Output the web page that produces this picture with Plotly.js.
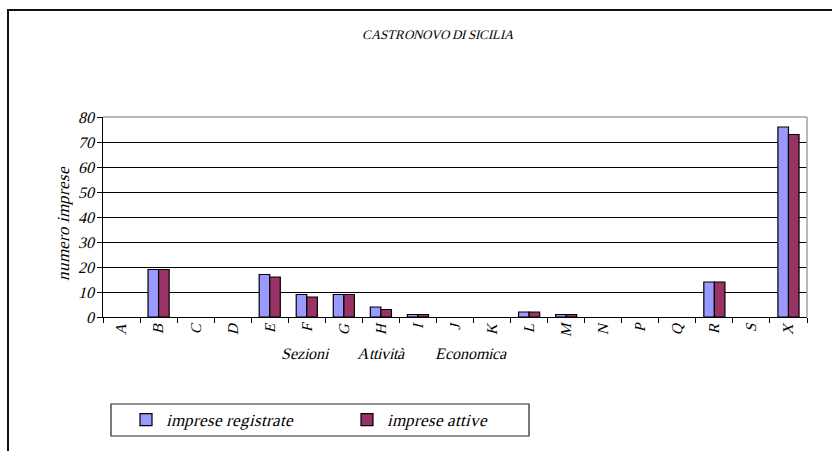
<!DOCTYPE html>
<html>
<head>
<meta charset="utf-8">
<script src="https://cdn.plot.ly/plotly-3.0.1.min.js"></script>
<style>
@font-face { font-family: 'TimesLike'; src: local('Liberation Serif'), local('LiberationSerif'), local('LiberationSerif-Regular'); font-style: normal; font-weight: 400; }
html,body{margin:0;padding:0;background:#fff;overflow:hidden;}
#chart{width:832px;height:451px;}
</style>
</head>
<body>
<div id="chart"></div>
<script>
const chartTitle = "CASTRONOVO DI SICILIA";
const categories = ["A","B","C","D","E","F","G","H","I","J","K","L","M","N","P","Q","R","S","X"];
const impreseRegistrate = [0,19,0,0,17,9,9,4,1,0,0,2,1,0,0,0,14,0,76];
const impreseAttive     = [0,19,0,0,16,8,9,3,1,0,0,2,1,0,0,0,14,0,73];
const seriesNames = ["imprese registrate","imprese attive"];
const yTicks = [0,10,20,30,40,50,60,70,80];
const xTitleWords = ["Sezioni","Attività","Economica"];
const yTitle = "numero imprese";

const FONT = "TimesLike, 'Liberation Serif', serif";
const W = 832, H = 451;
const L = 103, R = 25, T = 117, B = 134;
const pw = W - L - R, ph = H - T - B;
const px = p => (p - L) / pw;
const py = p => (H - B - p) / ph;
const shown = vals => vals.map(v => v === 0 ? null : v);
const f = (size) => ({family:FONT, size:size, color:'#000', style:'italic'});

function draw() {
  const traces = [
    {type:'bar', x:categories, y:shown(impreseRegistrate), name:seriesNames[0],
     marker:{color:'#9999FF', line:{color:'#000', width:1.2}}},
    {type:'bar', x:categories, y:shown(impreseAttive), name:seriesNames[1],
     marker:{color:'#993366', line:{color:'#000', width:1.2}}}
  ];

  const annotations = [
    {text:xTitleWords[0], x:px(279), y:py(353)},
    {text:xTitleWords[1], x:px(355), y:py(353)},
    {text:xTitleWords[2], x:px(433), y:py(353)}
  ].map(a => Object.assign(a, {xref:'paper', yref:'paper', xanchor:'left', yanchor:'middle',
    showarrow:false, font:f(16)}));
  annotations.push({text:yTitle, xref:'paper', yref:'paper', x:px(63), y:py(224),
    xanchor:'center', yanchor:'middle', textangle:-90, showarrow:false, font:f(17)});

  const layout = {
    width:W, height:H,
    margin:{l:L, r:R, t:T, b:B},
    paper_bgcolor:'#fff', plot_bgcolor:'#fff',
    font:{family:FONT},
    title:{text:chartTitle, x:437/W, xanchor:'center', y:1-34/H, yanchor:'middle', font:f(13)},
    barmode:'group', bargap:0.43, bargroupgap:0,
    showlegend:true,
    legend:{orientation:'h', x:px(126), xanchor:'left', y:py(420), yanchor:'middle',
      entrywidth:176, bgcolor:'rgba(0,0,0,0)', borderwidth:0, font:f(17)},
    xaxis:{type:'category', categoryorder:'array', categoryarray:categories,
      showline:true, linecolor:'#000', linewidth:1,
      ticks:'outside', tickson:'boundaries', ticklen:5, tickcolor:'#000',
      tickangle:-90, showgrid:false, zeroline:false, tickfont:f(15)},
    yaxis:{range:[0,80], tickvals:yTicks, showline:true, linecolor:'#000', linewidth:1,
      ticks:'outside', ticklen:5, tickcolor:'#000',
      gridcolor:'#000', gridwidth:1, zeroline:false, tickfont:f(16)},
    annotations:annotations,
    shapes:[
      {type:'line', xref:'paper', yref:'paper', x0:0, x1:1, y0:1, y1:1, line:{color:'#a0a0a0', width:1.5}, layer:'above'},
      {type:'line', xref:'paper', yref:'paper', x0:1, x1:1, y0:0, y1:1, line:{color:'#a0a0a0', width:1.5}, layer:'above'},
      {type:'rect', xref:'paper', yref:'paper', x0:px(111), x1:px(529), y0:py(436), y1:py(404),
        line:{color:'#222', width:1.2}, fillcolor:'rgba(0,0,0,0)', layer:'below'},
      {type:'rect', xref:'paper', yref:'paper', x0:px(8), x1:px(900), y0:py(500), y1:py(10),
        line:{color:'#111', width:2}, fillcolor:'rgba(0,0,0,0)', layer:'below'}
    ]
  };

  Plotly.newPlot('chart', traces, layout, {displayModeBar:false, staticPlot:true});
}

if (document.fonts && document.fonts.load) {
  document.fonts.load("italic 15px TimesLike").then(draw, draw);
} else {
  draw();
}
</script>
</body>
</html>
